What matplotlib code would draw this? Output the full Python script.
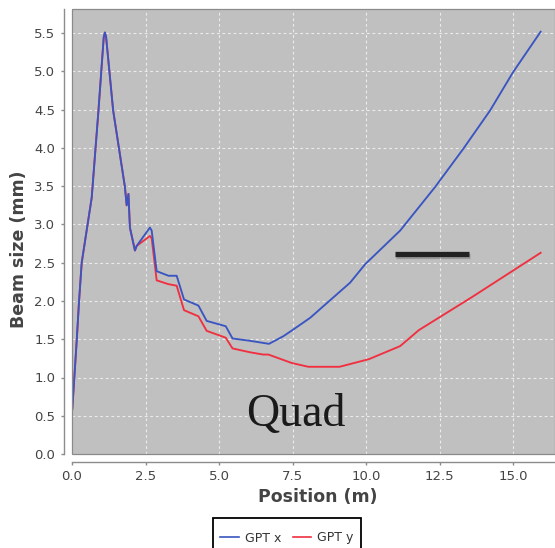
import matplotlib
matplotlib.use("Agg")
import matplotlib.pyplot as plt
import matplotlib.patheffects as pe
from matplotlib.patches import Rectangle
from matplotlib.lines import Line2D

# Beam envelope along the line (GPT tracking)
pos_x = [0.01, 0.16, 0.24, 0.33, 0.67, 0.90, 1.08, 1.12, 1.16, 1.40, 1.80, 1.86,
         1.92, 1.97, 2.14, 2.20, 2.65, 2.71, 2.88, 3.28, 3.56, 3.81, 4.30, 4.58,
         5.23, 5.46, 6.05, 6.70, 7.19, 7.50, 8.10, 9.46, 9.97, 11.16, 12.35,
         13.31, 14.22, 15.00, 15.94]
size_x = [0.59, 1.48, 2.00, 2.50, 3.35, 4.49, 5.45, 5.51, 5.45, 4.49, 3.49, 3.25,
          3.40, 2.96, 2.66, 2.72, 2.96, 2.92, 2.39, 2.33, 2.33, 2.02, 1.94, 1.74,
          1.67, 1.51, 1.48, 1.44, 1.54, 1.62, 1.78, 2.24, 2.48, 2.92, 3.49,
          3.99, 4.49, 4.99, 5.52]

pos_y = [0.01, 0.16, 0.24, 0.33, 0.67, 0.90, 1.08, 1.12, 1.16, 1.40, 1.80, 1.86,
         1.92, 1.97, 2.14, 2.20, 2.65, 2.71, 2.88, 3.28, 3.56, 3.81, 4.30, 4.58,
         5.23, 5.46, 6.05, 6.50, 6.68, 7.47, 8.04, 9.10, 10.10, 11.16, 11.80,
         13.60, 15.94]
size_y = [0.59, 1.48, 2.00, 2.50, 3.35, 4.49, 5.45, 5.51, 5.45, 4.49, 3.49, 3.25,
          3.40, 2.96, 2.66, 2.72, 2.85, 2.82, 2.27, 2.22, 2.20, 1.88, 1.80, 1.61,
          1.52, 1.38, 1.33, 1.30, 1.30, 1.19, 1.14, 1.14, 1.24, 1.41, 1.62,
          2.05, 2.63]

x_ticks = [0.0, 2.5, 5.0, 7.5, 10.0, 12.5, 15.0]
y_ticks = [0.0, 0.5, 1.0, 1.5, 2.0, 2.5, 3.0, 3.5, 4.0, 4.5, 5.0, 5.5]
series_names = ["GPT x", "GPT y"]

# quadrupole marker bar and its label
bar_x = [10.99, 13.50]
bar_y = [2.61, 2.61]
label_text = "Quad"
label_pos = (7.6, 0.36)

BLUE = "#3a55c2"
RED = "#f03040"

fig = plt.figure(figsize=(5.55, 5.48), dpi=100)
ax = fig.add_axes([72 / 555, (548 - 454) / 548, (555 - 72) / 555, (454 - 9.3) / 548])
ax.set_facecolor("#c0c0c0")

ax.plot(pos_y, size_y, color=RED, lw=1.35, zorder=3)
ax.plot(pos_x, size_x, color=BLUE, lw=1.35, zorder=4)

ax.plot(bar_x, bar_y, color="#222222", lw=3.8, solid_capstyle="butt", zorder=5,
        path_effects=[pe.SimpleLineShadow(offset=(0.5, -1.5), shadow_color="#555555", alpha=0.35),
                      pe.Normal()])

ax.text(label_pos[0], label_pos[1], label_text, family="Liberation Serif", fontsize=33,
        color="#1a1a1a", ha="center", va="baseline", zorder=5)

ax.set_xlim(0, (555 - 72) / 29.4)
ax.set_ylim(0, (454 - 9.3) / 76.5)
ax.set_xticks(x_ticks)
ax.set_yticks(y_ticks)
ax.set_xticklabels([f"{t:.1f}" for t in x_ticks])
ax.set_yticklabels([f"{t:.1f}" for t in y_ticks])

ax.grid(True, color="#ececec", lw=0.8, linestyle=(0, (2.5, 2.5)))
ax.set_axisbelow(True)

for s in ["top", "right"]:
    ax.spines[s].set_visible(False)
for s in ["left", "bottom"]:
    ax.spines[s].set_position(("outward", 6))
    ax.spines[s].set_color("#8c8c8c")
    ax.spines[s].set_linewidth(1.0)

# outline of the data area
ax.add_patch(Rectangle((0, 0), 1, 1, transform=ax.transAxes, fill=False,
                       edgecolor="#8a8a8a", lw=0.9, clip_on=False, zorder=6))

ax.tick_params(axis="both", colors="#8c8c8c", labelcolor="#444444", length=2.5,
               width=1.0, labelsize=9.5)
ax.tick_params(axis="y", pad=3.5)
ax.tick_params(axis="x", pad=3)

ax.set_xlabel("Position (m)", fontsize=12.5, fontweight="bold", color="#444444")
ax.set_ylabel("Beam size (mm)", fontsize=12.5, fontweight="bold", color="#444444")
ax.xaxis.set_label_coords(0.509, -0.077)
ax.yaxis.set_label_coords(-0.0905, 0.461)

handles = [Line2D([], [], color=BLUE, lw=1.2), Line2D([], [], color=RED, lw=1.2)]
fig.legend(handles, series_names, loc="center", bbox_to_anchor=(286.7 / 555, (548 - 538) / 548),
           ncol=2, frameon=False, fontsize=9, handlelength=1.5, handletextpad=0.45,
           columnspacing=0.93, borderpad=0.3, labelcolor="#333333")
fig.patches.append(Rectangle((212.7 / 555, -0.05), (360.7 - 212.7) / 555, (548 - 518.3) / 548 + 0.05,
                             transform=fig.transFigure, fill=False, edgecolor="black", lw=1.3))

fig.savefig("out.png", dpi=100)
